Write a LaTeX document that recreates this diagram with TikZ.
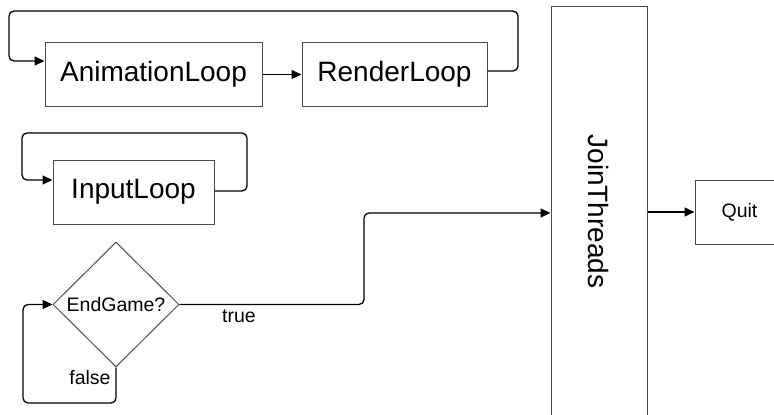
\documentclass[tikz,border=0pt]{standalone}
\usepackage{fontspec}
\setmainfont{Liberation Sans}
\usepackage{graphicx}
\usetikzlibrary{arrows.meta,shapes.geometric}

\tikzset{
  box/.style={draw=black!70, line width=1pt, rectangle, inner sep=0pt},
  big/.style={font=\fontsize{28}{34}\selectfont},
  small/.style={font=\fontsize{19.5}{23}\selectfont},
  flow/.style={draw=black, line width=1.3pt, rounded corners=5pt,
    -{Triangle[length=10pt,width=9pt]}},
  plain/.style={draw=black, line width=1.3pt, rounded corners=5pt},
}

\begin{document}
\begin{tikzpicture}[x=1pt, y=-1pt]
  \clip (0,0) rectangle (774,415);

  % thread boxes
  \node[box, big, minimum width=217, minimum height=64] (anim) at (153.5,74.5) {AnimationLoop};
  \node[box, big, minimum width=185, minimum height=64] (render) at (394.5,74.5) {RenderLoop};
  \node[box, big, minimum width=161, minimum height=64] (input) at (133.5,192) {InputLoop};

  % decision
  \node[draw=black!70, line width=1pt, diamond, inner sep=0pt,
        minimum width=126, minimum height=125, small] (endgame) at (116,304.5) {EndGame?};

  % join and quit
  \node[box, big, minimum width=96, minimum height=410] (join) at (599,211.5)
    {\rotatebox{-90}{JoinThreads}};
  \node[box, small, minimum width=89, minimum height=64] (quit) at (739.5,212) {Quit};

  % render thread loop
  \draw[flow] (anim) -- (render);
  \draw[flow] ([yshift=3.5pt]render.east) -| (518,11) -| (9,61) -- ([yshift=13.5pt]anim.west);

  % input thread loop
  \draw[flow] ([yshift=1pt]input.east) -| (247,133) -| (22,180) -- ([yshift=12pt]input.west);

  % end-game check
  \coordinate (bend) at (364,213);
  \draw[flow] (endgame.east) -| (bend) -- (bend -| join.west);
  \draw[flow] (endgame.south) |- (23,403) |- (endgame.west);
  \node[small] (truelbl) at (239,316) {true};
  \node[small] (falselbl) at (90,378) {false};

  \draw[flow] (join.east |- quit.west) -- (quit.west);
\end{tikzpicture}
\end{document}
